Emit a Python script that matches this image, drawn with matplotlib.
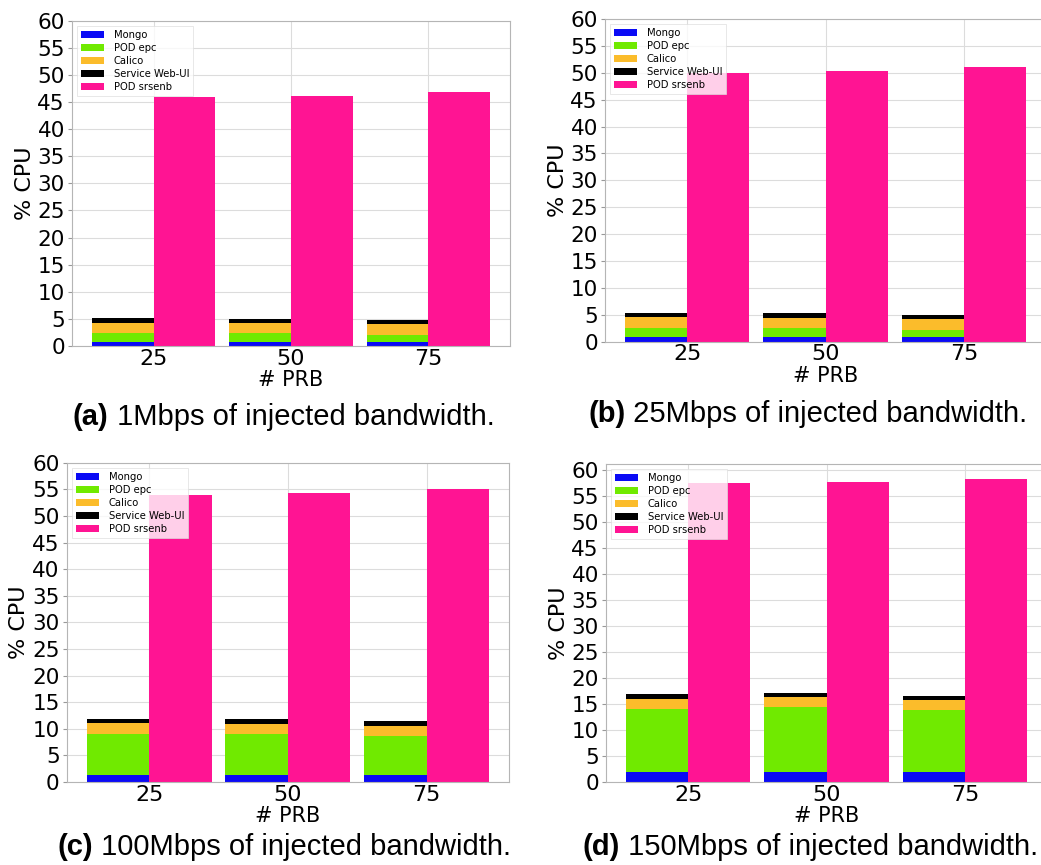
import numpy as np
import matplotlib.pyplot as plt

plt.rcParams['font.family'] = ['DejaVu Sans']

# nilai (% CPU), tiap komponen ditumpuk
prb = ['25', '50', '75']

mongo_a = [0.7, 0.7, 0.7]
epc_a = [1.75, 1.7, 1.4]
calico_a = [1.85, 1.8, 1.95]
webui_a = [0.87, 0.85, 0.8]
srsenb_a = [45.85, 46.1, 46.8]

mongo_b = [0.87, 0.85, 0.85]
epc_b = [1.73, 1.62, 1.35]
calico_b = [1.98, 1.92, 1.94]
webui_b = [0.74, 0.91, 0.86]
srsenb_b = [50.0, 50.3, 51.0]

mongo_c = [1.38, 1.38, 1.38]
epc_c = [7.67, 7.62, 7.29]
calico_c = [1.95, 1.9, 1.93]
webui_c = [0.87, 0.85, 0.9]
srsenb_c = [53.96, 54.27, 55.0]

mongo_d = [1.93, 1.93, 1.93]
epc_d = [12.15, 12.54, 11.87]
calico_d = [1.92, 1.93, 1.95]
webui_d = [0.85, 0.8, 0.85]
srsenb_d = [57.4, 57.6, 58.3]

labels = ['Mongo', 'POD epc', 'Calico', 'Service Web-UI', 'POD srsenb']
colors = ['#0a0af5', '#70ea00', '#fbbc2b', '#000000', '#ff1493']

captions = [('(a)', ' 1Mbps of injected bandwidth.'),
            ('(b)', ' 25Mbps of injected bandwidth.'),
            ('(c)', ' 100Mbps of injected bandwidth.'),
            ('(d)', ' 150Mbps of injected bandwidth.')]


def draw_panel(ax, stack, srsenb, fix_top):
    x = np.arange(len(prb))
    w = 0.45
    bottom = np.zeros(len(prb))
    handles = []
    # bar tumpuk di kiri tick, srsenb di kanan tick
    for vals, lab, col in zip(stack, labels[:4], colors[:4]):
        b = ax.bar(x, vals, -w, bottom=bottom, align='edge', color=col, label=lab, zorder=2)
        bottom += np.array(vals)
        handles.append(b)
    b = ax.bar(x, srsenb, w, align='edge', color=colors[4], label=labels[4], zorder=2)
    handles.append(b)

    if fix_top:
        ax.set_ylim(0, 60)
    ax.set_yticks(np.arange(0, 61, 5))
    ax.set_xticks(x)
    ax.set_xticklabels(prb)
    ax.tick_params(axis='y', labelsize=15.5, pad=2, length=3, color='#999999')
    ax.tick_params(axis='x', labelsize=16, pad=2, length=0)
    ax.set_ylabel('% CPU', fontsize=16, labelpad=2)
    ax.set_xlabel('# PRB', fontsize=15, labelpad=1)
    ax.grid(True, color='#dcdcdc', linewidth=0.8, zorder=0)
    ax.set_axisbelow(True)
    for s in ax.spines.values():
        s.set_color('#b5b5b5')
    leg = ax.legend(handles=handles, loc='upper left', fontsize=7.2, framealpha=0.8,
                    edgecolor='#dddddd', fancybox=False, labelspacing=0.3,
                    handlelength=2.3, handletextpad=1.0)
    leg.get_frame().set_linewidth(0.6)


fig = plt.figure(figsize=(10.41, 8.65), dpi=100)

# posisi axes dalam pecahan figure (kiri, bawah, lebar, tinggi)
pos = [[0.069, 0.600, 0.421, 0.376],
       [0.581, 0.605, 0.424, 0.373],
       [0.064, 0.096, 0.425, 0.369],
       [0.582, 0.096, 0.424, 0.368]]

data = [([mongo_a, epc_a, calico_a, webui_a], srsenb_a, True),
        ([mongo_b, epc_b, calico_b, webui_b], srsenb_b, True),
        ([mongo_c, epc_c, calico_c, webui_c], srsenb_c, True),
        ([mongo_d, epc_d, calico_d, webui_d], srsenb_d, False)]

# posisi caption (kiri, baseline)
cap_pos = [(0.070, 0.509), (0.565, 0.512), (0.055, 0.011), (0.560, 0.012)]

for p, (stack, srs, fix_top), (bold, rest), (cx, cy) in zip(pos, data, captions, cap_pos):
    ax = fig.add_axes(p)
    draw_panel(ax, stack, srs, fix_top)
    t = fig.text(cx, cy, bold, fontsize=21, fontweight='bold', family='Liberation Sans',
                 va='baseline', ha='left')
    ax.annotate(rest, xy=(1, 0), xycoords=t, fontsize=21, family='Liberation Sans',
                va='bottom', ha='left', annotation_clip=False)

fig.savefig('out.png', dpi=100)
